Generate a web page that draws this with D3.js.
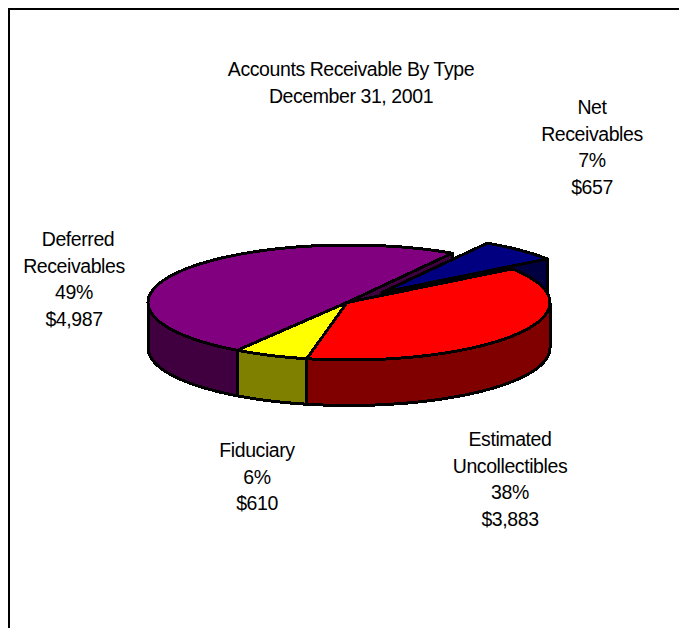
<!DOCTYPE html>
<html>
<head>
<meta charset="utf-8">
<script src="https://cdn.jsdelivr.net/npm/d3@7"></script>
<style>
html,body{margin:0;padding:0;background:#fff;overflow:hidden}
svg{display:block}
text{font-family:"Liberation Sans",Arial,sans-serif;font-size:19.5px;fill:#000;text-anchor:middle;letter-spacing:-0.42px}
</style>
</head>
<body>
<svg id="c" width="679" height="628"></svg>
<script>
const categories = ["Net Receivables","Estimated Uncollectibles","Fiduciary","Deferred Receivables"];
const values = [657,3883,610,4987];
const percents = ["7%","38%","6%","49%"];
const amounts = ["$657","$3,883","$610","$4,987"];
const topColors = ["#000080","#ff0000","#ffff00","#800080"];
const wallColors = ["#000040","#800000","#808000","#400040"];
const titleLines = ["Accounts Receivable By Type","December 31, 2001"];
const labelLines = [["Net","Receivables"],["Estimated","Uncollectibles"],["Fiduciary"],["Deferred","Receivables"]];

const W=679,H=628;
const cx=349,cy=302.5,rx=201,ry=57.5,depth=45.5,apexDx=-2;
const explode=[[35,-10],[0,0],[0,0],[0,0]];
const labelPos=[[592,108],[510,440],[257,451],[74,240]];
const lineH=26.6;

const svg=d3.select("#c");
const sx=d3.scaleLinear().domain([-1,1]).range([cx-rx,cx+rx]);
const sy=d3.scaleLinear().domain([-1,1]).range([cy-ry,cy+ry]);
const line=d3.line();

const startA=30.9*Math.PI/180;
const arcs=d3.pie().sort(null).startAngle(startA).endAngle(startA+2*Math.PI)(values);
const pt=(a,i,dy=0)=>[sx(Math.sin(a))+explode[i][0],sy(-Math.cos(a))+explode[i][1]+dy];
const apex=(i,dy=0)=>[cx+apexDx+explode[i][0],cy+explode[i][1]+dy];
const sample=(a0,a1)=>{const n=Math.max(2,Math.ceil((a1-a0)*60));return d3.range(n+1).map(k=>a0+(a1-a0)*k/n);};

const marks=svg.append("g").attr("shape-rendering","crispEdges")
  .attr("stroke","#000").attr("stroke-width",3).attr("stroke-linejoin","round");
const poly=(pts,fill)=>marks.append("path").attr("d",line(pts)+"Z").attr("fill",fill);

const topFace=i=>poly([apex(i),...sample(arcs[i].startAngle,arcs[i].endAngle).map(a=>pt(a,i))],topColors[i]);
const cutFace=(i,a)=>poly([apex(i),pt(a,i),pt(a,i,depth),apex(i,depth)],wallColors[i]);
const outerWall=i=>{
  const a0=Math.max(arcs[i].startAngle,Math.PI/2),a1=Math.min(arcs[i].endAngle,3*Math.PI/2);
  if(a1<=a0)return;
  const s=sample(a0,a1);
  poly([...s.map(a=>pt(a,i)),...s.slice().reverse().map(a=>pt(a,i,depth))],wallColors[i]);
};

// back to front
cutFace(3,arcs[3].endAngle);
cutFace(0,arcs[0].endAngle);
topFace(0);
[1,2,3].forEach(outerWall);
[3,2,1].forEach(topFace);

// frame
svg.append("path").attr("d",line([[9,H],[9,9],[W,9]])).attr("fill","none").attr("stroke","#000").attr("stroke-width",2);

// title
svg.selectAll("text.t").data(titleLines).join("text").attr("class","t")
  .attr("x",351).attr("y",(d,i)=>76+i*27).text(d=>d);

// labels
categories.forEach((c,i)=>{
  const lines=[...labelLines[i],percents[i],amounts[i]];
  svg.append("g").selectAll("text").data(lines).join("text")
    .attr("x",(d,k)=>labelPos[i][0]+(i===3&&k===0?4:0)).attr("y",(d,k)=>labelPos[i][1]+6+k*lineH).text(d=>d);
});
</script>
</body>
</html>
